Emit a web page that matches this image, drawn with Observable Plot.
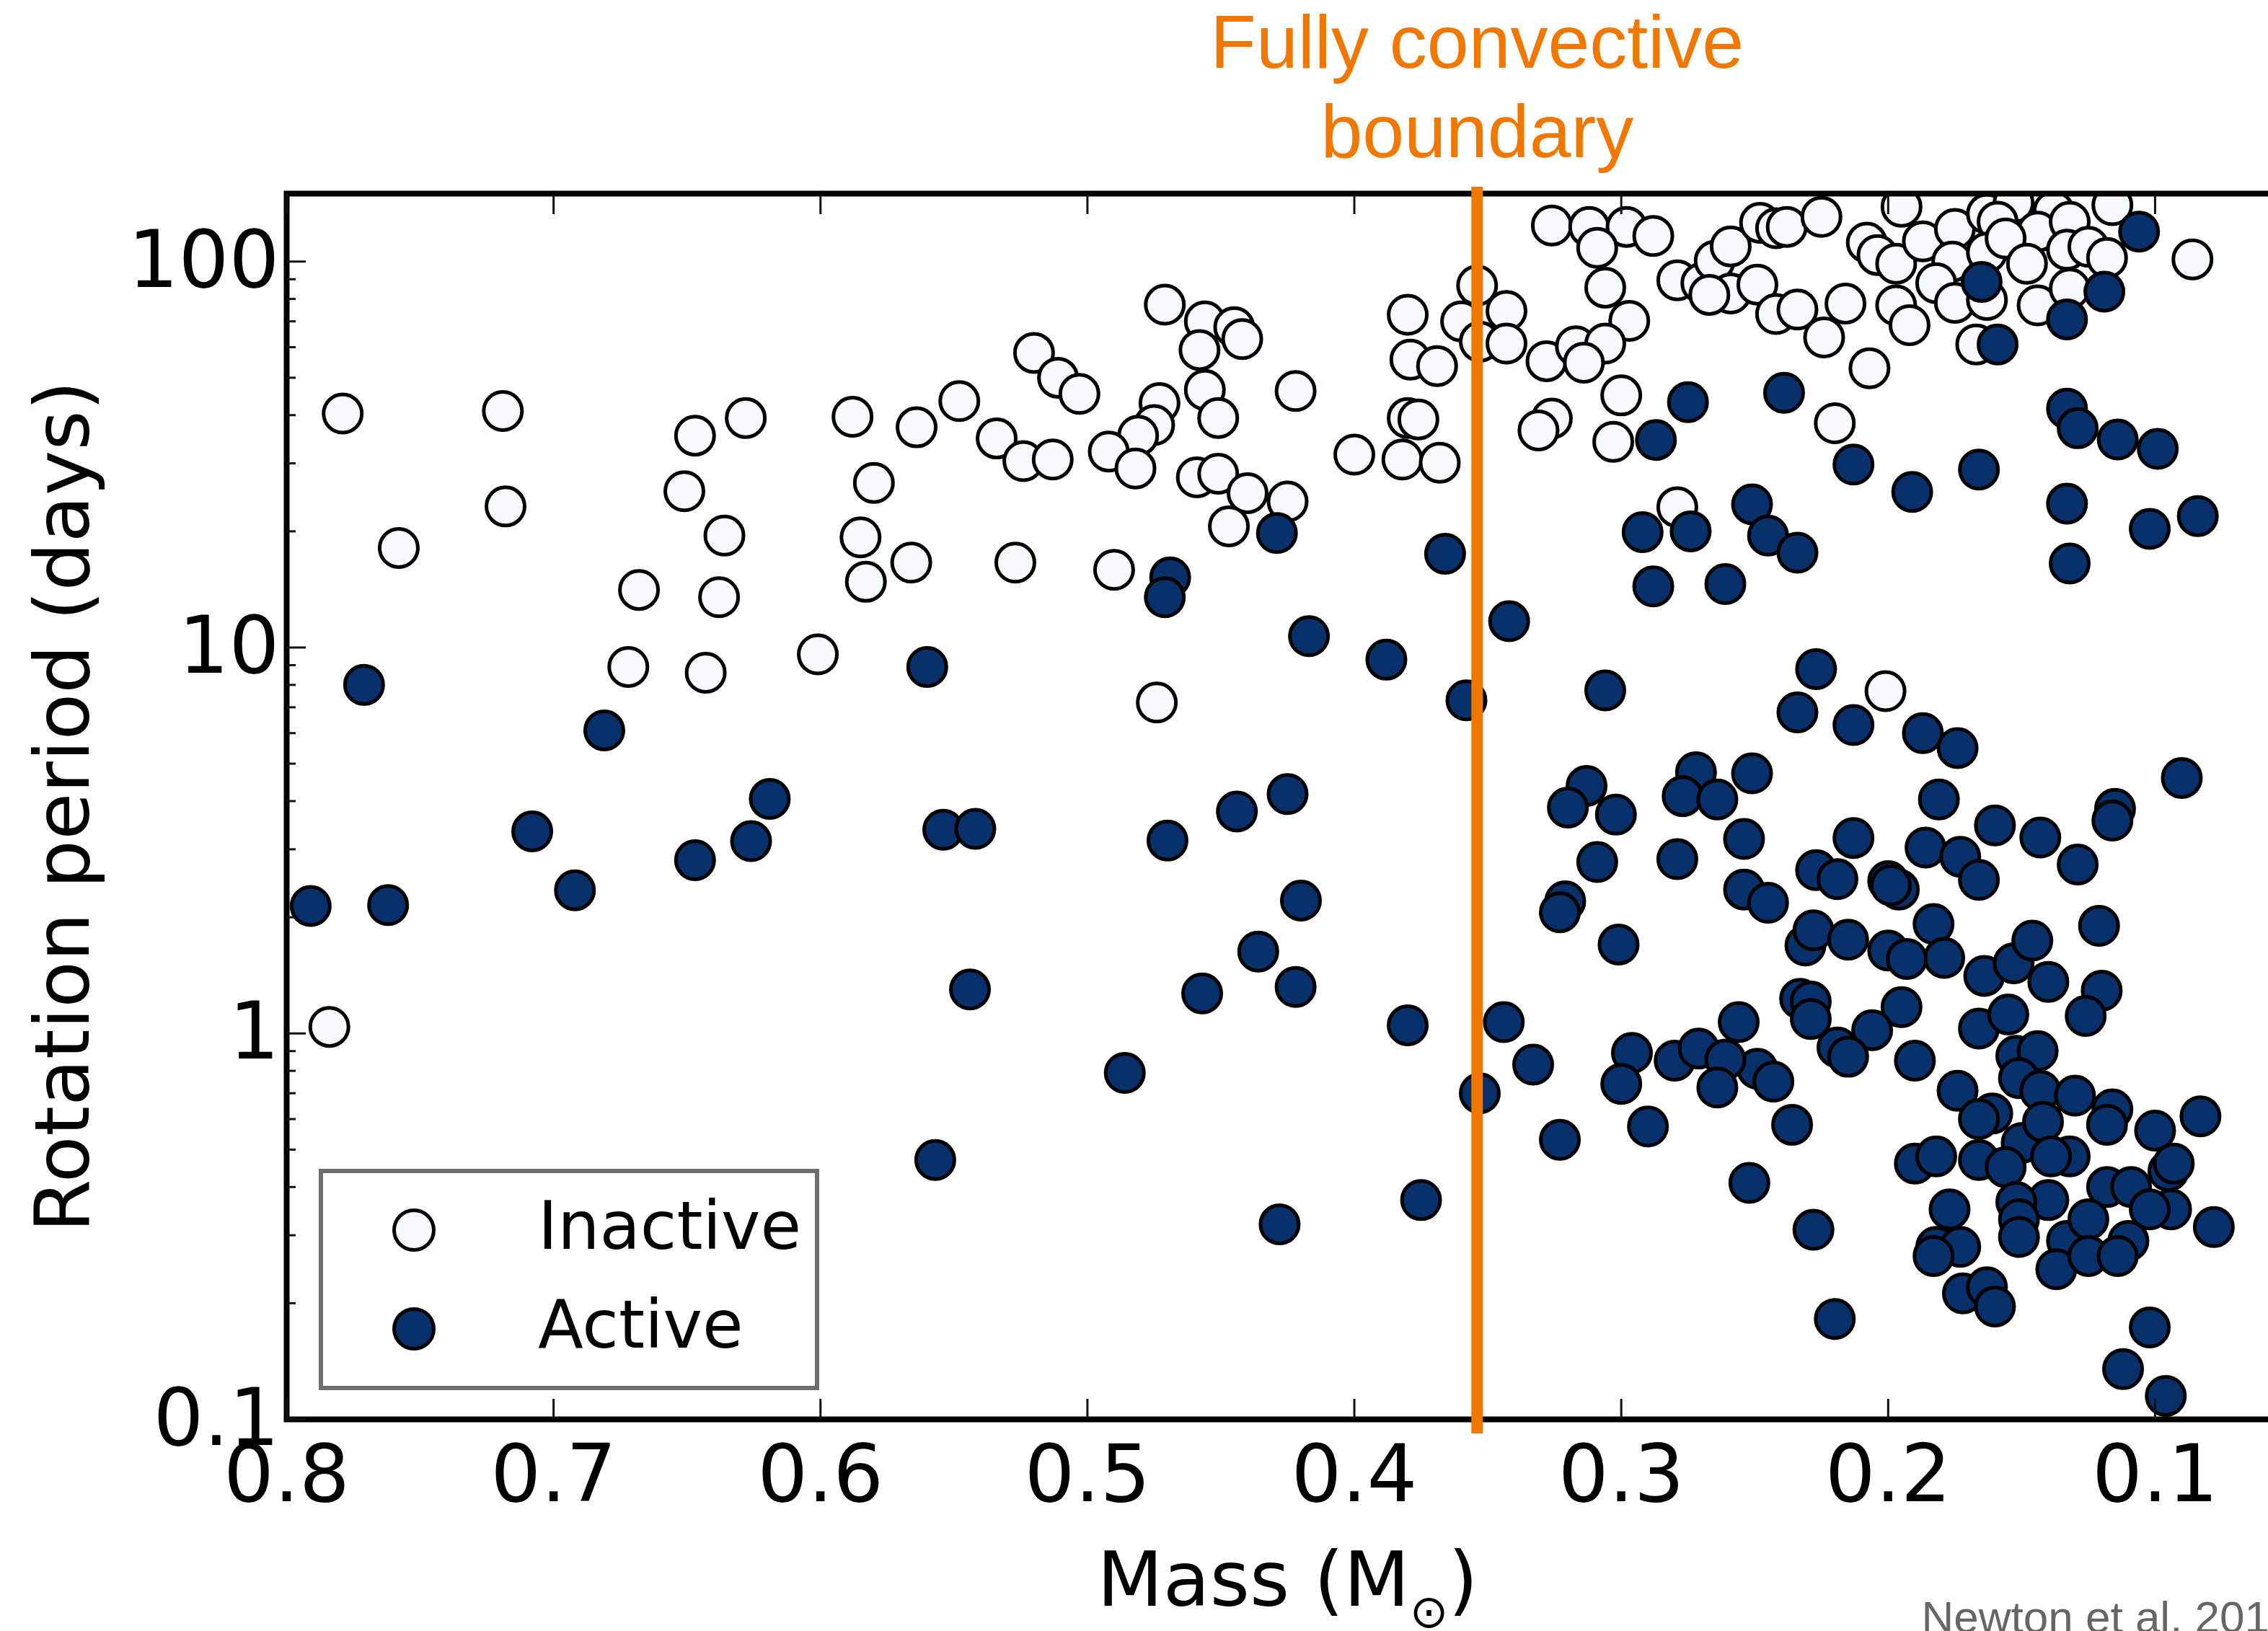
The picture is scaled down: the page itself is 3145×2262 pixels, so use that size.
<!DOCTYPE html>
<html>
<head>
<meta charset="utf-8">
<script src="https://cdn.jsdelivr.net/npm/d3@7"></script>
<script src="https://cdn.jsdelivr.net/npm/@observablehq/plot@0.6"></script>
<style>
  html, body { margin: 0; padding: 0; background: #fff; overflow: hidden; }
  #chart { position: relative; width: 3145px; height: 2262px; overflow: hidden; }
  #chart > svg { max-width: none !important; display: block; }
  #legend { position: absolute; left: 442px; top: 1621px; }
</style>
</head>
<body>
<div id="chart"></div>
<script>
// Stellar mass (solar masses) and rotation period (days) for each star
const inactive = [
  [0.779,40.4],[0.719,41.0],[0.718,23.2],[0.758,18.1],[0.784,1.04],[0.668,14.1],[0.672,8.9],
  [0.647,35.4],[0.628,39.3],[0.651,25.4],[0.636,19.5],[0.638,13.5],[0.643,8.6],[0.601,9.6],
  [0.588,39.6],[0.580,26.7],[0.585,19.3],[0.583,14.8],[0.564,37.2],[0.566,16.6],[0.548,43.5],
  [0.534,34.8],[0.524,30.4],[0.513,30.7],[0.527,16.6],[0.520,58.0],[0.511,50.0],[0.503,45.4],
  [0.490,15.9],[0.474,7.2],[0.471,77.3],[0.456,70.0],[0.445,67.6],[0.442,63.0],[0.458,59.0],
  [0.422,46.2],[0.456,46.5],[0.451,39.3],[0.473,43.0],[0.475,37.7],[0.481,35.4],[0.492,32.2],
  [0.482,29.1],[0.459,27.6],[0.451,28.2],[0.440,25.1],[0.425,23.9],[0.447,20.6],[0.400,31.6],
  [0.380,72.8],[0.379,55.7],[0.369,53.6],[0.380,39.3],[0.376,39.0],[0.382,30.7],[0.368,30.1],
  [0.354,86.7],[0.360,70.0],[0.353,62.0],[0.343,74.5],[0.343,61.3],
  [0.326,124],[0.312,123],[0.298,123],[0.288,116.5],[0.309,108.5],[0.306,85.6],[0.297,70.2],
  [0.328,55.2],[0.317,60.3],[0.306,61.3],[0.314,54.7],[0.279,89.4],[0.270,87.9],[0.265,100.4],
  [0.259,109.5],[0.259,82.7],[0.267,82.0],[0.248,126],[0.242,122],[0.238,123],[0.225,130.6],
  [0.249,87.1],[0.242,73.1],[0.234,75.1],[0.224,63.6],[0.216,77.8],[0.300,45.0],[0.326,39.2],
  [0.331,36.5],[0.303,34.1],[0.220,38.1],[0.279,23.1],
  [0.195,138.7],[0.208,111.9],[0.204,104],[0.197,98.7],[0.187,112.8],[0.175,121.5],[0.176,100],
  [0.163,133],[0.153,142],[0.138,135.3],[0.116,140],[0.159,126.8],[0.144,119.6],[0.132,126.8],
  [0.163,105.5],[0.156,114.8],[0.148,98.7],[0.133,107.3],[0.125,109.2],[0.118,102.2],[0.086,101.3],
  [0.167,61.0],[0.197,77.0],[0.192,68.4],[0.207,52.9],[0.182,87.9],[0.175,78.2],[0.163,79.5],
  [0.144,77.0],[0.132,85.1],
  [0.201,7.71]
];

const active = [
  [0.771,8.0],[0.791,2.14],[0.762,2.15],[0.681,6.1],[0.708,3.34],[0.692,2.35],[0.647,2.81],[0.626,3.15],[0.619,4.05],
  [0.560,8.9],[0.554,3.37],[0.542,3.39],[0.544,1.30],[0.557,0.47],[0.486,0.79],[0.469,15.2],[0.471,13.5],[0.470,3.16],
  [0.457,1.27],[0.444,3.76],[0.436,1.63],[0.428,0.32],[0.425,4.17],[0.422,1.32],[0.420,2.21],[0.417,10.7],[0.429,19.8],
  [0.388,9.3],[0.380,1.05],[0.375,0.37],[0.366,17.5],[0.358,7.3],[0.353,0.70],[0.344,1.07],[0.342,11.7],[0.333,0.83],[0.323,0.53],
  [0.275,43.2],[0.287,34.5],[0.239,45.7],[0.292,19.9],[0.274,20.0],[0.251,23.5],[0.245,19.5],[0.234,17.6],[0.288,14.4],[0.261,14.6],
  [0.106,119.6],[0.165,88.6],[0.119,83.6],[0.133,70.8],[0.159,61.0],[0.213,29.8],[0.191,25.3],[0.166,28.9],[0.133,41.6],[0.129,37.0],
  [0.114,34.6],[0.099,32.7],[0.133,23.6],[0.102,20.3],[0.084,21.9],[0.132,16.5],
  [0.306,7.74],[0.227,8.79],[0.234,6.79],[0.213,6.3],[0.187,6.0],[0.174,5.49],[0.090,4.59],[0.313,4.38],[0.320,3.85],[0.302,3.69],
  [0.272,4.75],[0.277,4.12],[0.264,4.04],[0.251,4.72],[0.254,3.19],[0.309,2.78],[0.279,2.83],[0.321,2.20],[0.323,2.06],[0.301,1.70],
  [0.181,4.04],[0.213,3.21],[0.160,3.46],[0.143,3.22],[0.115,3.82],[0.116,3.56],[0.129,2.74],[0.186,3.03],[0.173,2.87],[0.166,2.50],
  [0.227,2.65],[0.219,2.51],[0.200,2.48],[0.196,2.36],[0.199,2.42],[0.254,2.36],[0.245,2.18],[0.121,1.90],[0.183,1.92],[0.179,1.57],
  [0.231,1.69],[0.228,1.85],[0.215,1.75],[0.200,1.64],[0.193,1.56],[0.164,1.41],[0.153,1.52],[0.146,1.74],[0.140,1.36],[0.120,1.29],
  [0.126,1.11],[0.233,1.23],[0.229,1.21],[0.229,1.09],[0.195,1.17],[0.206,1.02],[0.219,0.92],[0.215,0.87],[0.166,1.03],[0.155,1.12],
  [0.190,0.85],[0.256,1.07],[0.249,0.81],[0.243,0.75],[0.152,0.875],[0.144,0.90],[0.151,0.766],[0.143,0.71],[0.130,0.69],[0.116,0.636],
  [0.118,0.58],[0.100,0.56],[0.083,0.61],[0.174,0.71],[0.161,0.62],[0.166,0.60],[0.150,0.52],[0.142,0.59],[0.132,0.48],[0.139,0.48],
  [0.166,0.47],[0.156,0.45],[0.190,0.46],[0.182,0.48],[0.118,0.40],[0.109,0.40],[0.095,0.44],[0.093,0.46],[0.094,0.35],[0.102,0.35],[0.078,0.315],
  [0.140,0.37],[0.152,0.366],[0.151,0.33],[0.177,0.35],[0.182,0.28],[0.173,0.28],[0.133,0.29],[0.125,0.33],[0.110,0.29],[0.228,0.31],
  [0.252,0.41],[0.236,0.58],
  [0.220,0.182],[0.102,0.173],[0.112,0.135],[0.096,0.115],[0.183,0.265],[0.172,0.212],[0.163,0.22],[0.160,0.196],[0.151,0.297],[0.137,0.245],
  [0.125,0.265],[0.114,0.265],
  [0.296,0.89],[0.300,0.74],[0.290,0.574],[0.280,0.85],[0.271,0.914],[0.261,0.856],[0.264,0.724]
];

const categories = ["Inactive", "Active"];
const fills = ["#f7fbff", "#08306b"];
const massTicks = [0.8, 0.7, 0.6, 0.5, 0.4, 0.3, 0.2, 0.1];
const periodTicks = [0.1, 1, 10, 100];
const periodMinorTicks = [0.2, 0.3, 0.4, 0.5, 0.6, 0.7, 0.8, 0.9,
                          2, 3, 4, 5, 6, 7, 8, 9,
                          20, 30, 40, 50, 60, 70, 80, 90];
const boundaryMass = [0.354];
const boundaryLabel = "Fully convective\nboundary";
const xLabel = "Mass (M\u2299)";
const yLabel = "Rotation period (days)";
const credit = "Newton et al. 2016";

const orange = "#f07800";
const toRows = (pairs, status) => pairs.map(([mass, period]) => ({mass, period, status}));
const rows = [...toRows(inactive, categories[0]), ...toRows(active, categories[1])];

const tickStyle = {label: null, tickFormat: () => "", stroke: "#111", strokeWidth: 3};

const svg = Plot.plot({
  width: 3190,
  height: 2262,
  marginLeft: 397,
  marginRight: 17,
  marginTop: 268,
  marginBottom: 294,
  style: {fontFamily: "DejaVu Sans", background: "white", color: "black"},
  x: {type: "linear", domain: [0.8, 0.05]},
  y: {type: "log", domain: [0.1, 150]},
  color: {domain: categories, range: fills},
  marks: [
    Plot.dot(rows, {x: "mass", y: "period", r: 26.5, fill: "status", stroke: "black", strokeWidth: 5, clip: true}),
    Plot.frame({stroke: "black", strokeWidth: 8}),
    // inward tick marks on all four sides
    Plot.axisX(massTicks, {anchor: "bottom", tickSize: -28, ...tickStyle}),
    Plot.axisX(massTicks, {anchor: "top", tickSize: -28, ...tickStyle}),
    Plot.axisY(periodTicks, {anchor: "left", tickSize: -27, ...tickStyle}),
    Plot.axisY(periodMinorTicks, {anchor: "left", tickSize: -13, ...tickStyle}),
    Plot.axisY(periodTicks, {anchor: "right", tickSize: -27, ...tickStyle}),
    Plot.axisY(periodMinorTicks, {anchor: "right", tickSize: -13, ...tickStyle}),
    // tick labels
    Plot.axisX(massTicks, {anchor: "bottom", tickSize: 0, tickPadding: 35, label: null,
      tickFormat: d => d.toFixed(1), fontSize: 110, fill: "black"}),
    Plot.axisY(periodTicks, {anchor: "left", tickSize: 0, tickPadding: 10, label: null,
      tickFormat: d => String(d), fontSize: 110, fill: "black"}),
    // axis titles
    Plot.text([yLabel], {text: d => d, frameAnchor: "left", rotate: -90, dx: -275,
      textAnchor: "middle", lineAnchor: "bottom", fontSize: 106, fill: "black"}),
    Plot.text([xLabel], {text: d => d, frameAnchor: "bottom", dy: 258,
      textAnchor: "middle", lineAnchor: "bottom", fontSize: 106, fill: "black"}),
    // fully convective boundary
    Plot.ruleX(boundaryMass, {x: d => d, stroke: orange, strokeWidth: 16, insetTop: -9, insetBottom: -20}),
    Plot.text(boundaryMass, {x: d => d, text: () => boundaryLabel, frameAnchor: "top", dy: -51,
      textAnchor: "middle", lineAnchor: "bottom", lineHeight: 1.183, fontSize: 104,
      fill: orange, fontFamily: "Liberation Sans"}),
    // source credit
    Plot.text([credit], {text: d => d, frameAnchor: "bottom-left", dx: 2267, dy: 295,
      textAnchor: "start", lineAnchor: "bottom", fontSize: 62, fill: "#666",
      fontFamily: "Liberation Sans"})
  ]
});

// Solar-mass symbol as a lowered subscript in the x-axis title
for (const t of svg.querySelectorAll("text")) {
  if (t.textContent === xLabel) {
    t.textContent = "";
    const ns = "http://www.w3.org/2000/svg";
    const parts = [["Mass (M", {}], ["\u2299", {dy: "30", "font-size": "64"}], [")", {dy: "-30"}]];
    for (const [s, attrs] of parts) {
      const span = document.createElementNS(ns, "tspan");
      for (const [k, v] of Object.entries(attrs)) span.setAttribute(k, v);
      span.textContent = s;
      t.appendChild(span);
    }
  }
}

const chart = document.getElementById("chart");
chart.appendChild(svg);

// Legend box
const legend = d3.create("svg")
  .attr("id", "legend")
  .attr("width", 694)
  .attr("height", 307)
  .style("font-family", "DejaVu Sans");
legend.append("rect")
  .attr("x", 3).attr("y", 3).attr("width", 688).attr("height", 301)
  .attr("fill", "white").attr("stroke", "#6e6e6e").attr("stroke-width", 6);
const rowY = [85, 222];
categories.forEach((name, i) => {
  legend.append("circle")
    .attr("cx", 132).attr("cy", rowY[i]).attr("r", 27.5)
    .attr("fill", fills[i]).attr("stroke", "black").attr("stroke-width", 5);
  legend.append("text")
    .attr("x", 304).attr("y", rowY[i] + 26)
    .attr("font-size", 92).attr("fill", "black")
    .text(name);
});
chart.appendChild(legend.node());
</script>
</body>
</html>
